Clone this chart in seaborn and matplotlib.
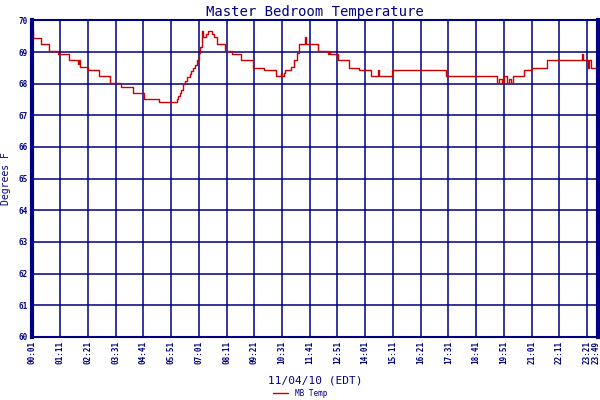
import pandas as pd
import matplotlib
matplotlib.use('Agg')
import matplotlib.pyplot as plt
import matplotlib.transforms as mtransforms
import seaborn as sns

# --- data: minutes after 00:01 where the reading changes, and the reading (F) ---
minutes = [0, 2, 22, 43, 65, 92, 116, 117, 119, 140, 169, 197, 224, 254, 282, 319,
           365, 367, 372, 375, 380, 384, 390, 397, 400, 405, 410, 415, 420, 424, 428,
           429, 431, 439, 442, 453, 459, 467, 487, 504, 527, 556, 585, 614, 628, 630,
           634, 638, 652, 661, 667, 672, 688, 690, 722, 747, 749, 751, 772, 799, 825,
           855, 873, 875, 907, 1043, 1173, 1177, 1184, 1191, 1198, 1203, 1207, 1214,
           1241, 1262, 1298, 1387, 1389, 1403, 1406, 1409, 1428]
temps = [69.65, 69.45, 69.26, 69.03, 68.95, 68.75, 68.62, 68.75, 68.52, 68.42, 68.23,
         68.03, 67.90, 67.72, 67.52, 67.43,
         67.50, 67.60, 67.70, 67.80, 67.99, 68.10, 68.20, 68.30, 68.40, 68.50, 68.60,
         68.75, 68.97, 69.15, 69.35,
         69.65, 69.46, 69.56, 69.65, 69.56, 69.46, 69.26, 69.02, 68.95, 68.75, 68.51,
         68.42, 68.23, 68.33, 68.23,
         68.33, 68.42, 68.53, 68.75, 68.97, 69.26, 69.46, 69.26, 69.04, 68.95, 69.04,
         68.95, 68.75, 68.51, 68.42,
         68.23, 68.42, 68.23, 68.42, 68.23, 68.02, 68.15, 68.02, 68.23, 68.02, 68.15,
         68.02, 68.23,
         68.42, 68.51, 68.75, 68.95, 68.75, 68.51, 68.75, 68.51, 68.51]

tick_minutes = [0, 70, 140, 210, 280, 350, 420, 490, 560, 630, 700, 770, 840, 910,
                980, 1050, 1120, 1190, 1260, 1330, 1400, 1428]
tick_labels = ['00:01', '01:11', '02:21', '03:31', '04:41', '05:51', '07:01', '08:11',
               '09:21', '10:31', '11:41', '12:51', '14:01', '15:11', '16:21', '17:31',
               '18:41', '19:51', '21:01', '22:11', '23:21', '23:49']
y_ticks = list(range(60, 71))

NAVY = '#000080'
RED = '#CC0000'

df = pd.DataFrame({'minute': minutes, 'temp': temps})

sns.set_style('white')
plt.rcParams['font.family'] = ['DejaVu Sans Mono', 'DejaVu Sans']

fig = plt.figure(figsize=(6, 4), dpi=100)
ax = fig.add_axes([0.054, 0.158, 0.943, 0.791])

sns.lineplot(data=df, x='minute', y='temp', ax=ax, color=RED, linewidth=1.0,
             drawstyle='steps-post', estimator=None, label='MB Temp', legend=False)

ax.set_xlim(0, 1428)
ax.set_ylim(60, 70)
ax.set_xticks(tick_minutes)
ax.set_xticklabels(tick_labels, rotation=90, fontsize=5.5, color=NAVY, fontweight='bold')
ax.set_yticks(y_ticks)
ax.set_yticklabels([str(v) for v in y_ticks], fontsize=5.5, color=NAVY, fontweight='bold')
ax.tick_params(length=0, pad=3)

# nudge the last time label so it stays inside the image
last = ax.get_xticklabels()[-1]
last.set_transform(last.get_transform() +
                   mtransforms.ScaledTranslation(-2.5 / 100, 0, fig.dpi_scale_trans))

ax.grid(True, color=NAVY, linewidth=1.1)
ax.set_axisbelow(True)
for side in ('top', 'bottom'):
    ax.spines[side].set_color(NAVY)
    ax.spines[side].set_linewidth(1.5)
for side in ('left', 'right'):
    ax.spines[side].set_color(NAVY)
    ax.spines[side].set_linewidth(3)

ax.set_title('Master Bedroom Temperature', color=NAVY, fontsize=10, pad=3)
ax.set_xlabel('11/04/10 (EDT)', color=NAVY, fontsize=8, labelpad=8)
ax.set_ylabel('Degrees F', color=NAVY, fontsize=7, labelpad=6)

fig.legend(loc='lower center', bbox_to_anchor=(0.5, -0.012), frameon=False,
           fontsize=5.5, handlelength=2, labelcolor=NAVY)

fig.savefig('out.png', dpi=100)
